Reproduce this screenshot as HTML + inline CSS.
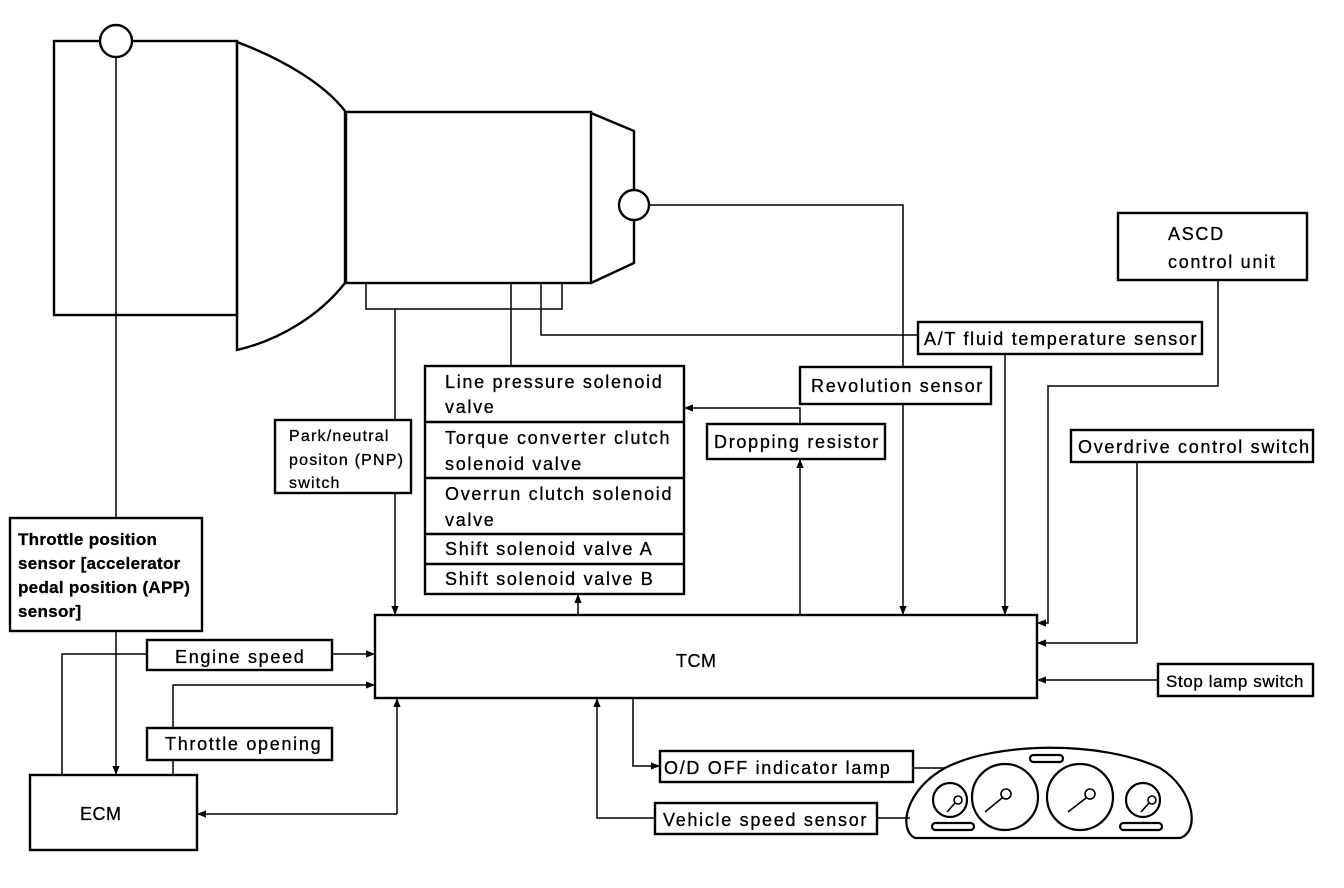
<!DOCTYPE html>
<html><head><meta charset="utf-8"><style>
html,body{margin:0;padding:0;background:#fff;}
svg{display:block;}
text{font-family:"Liberation Sans",Arial,sans-serif;font-size:18px;fill:#000;letter-spacing:1.7px;stroke:#000;stroke-width:0.3px;}
</style></head><body>
<svg width="1344" height="888" viewBox="0 0 1344 888" xmlns="http://www.w3.org/2000/svg">
<defs>
<marker id="a" viewBox="0 0 10 10" refX="10" refY="5" markerWidth="9" markerHeight="9" markerUnits="userSpaceOnUse" orient="auto"><path d="M0,1 L10,5 L0,9 Z" fill="#000" stroke="none"/></marker>
</defs>
<g fill="none" stroke="#000" stroke-width="2.4">
<rect x="54" y="41" width="183" height="274"/>
<circle cx="116" cy="41" r="16" fill="#fff"/>
<path d="M237,42 C285,60 325,85 345,111 L345,283 C320,315 280,340 237,350 Z"/>
<rect x="346" y="112" width="245" height="171"/>
<path d="M591,113 L634,131 L634,263 L591,283"/>
<circle cx="634" cy="205" r="15" fill="#fff"/>
<rect x="366" y="283" width="196" height="26" stroke-width="1.5"/>
<line x1="541" y1="283" x2="541" y2="309" stroke-width="1.5"/>
<rect x="1118" y="213" width="189" height="67"/>
<rect x="918" y="322" width="284" height="32"/>
<rect x="800" y="367" width="191" height="37"/>
<rect x="1071" y="430" width="242" height="32"/>
<rect x="1158" y="664" width="155" height="32"/>
<rect x="707" y="424" width="178" height="35"/>
<rect x="425" y="366" width="259" height="228"/>
<line x1="425" y1="422" x2="684" y2="422"/>
<line x1="425" y1="478" x2="684" y2="478"/>
<line x1="425" y1="534" x2="684" y2="534"/>
<line x1="425" y1="564" x2="684" y2="564"/>
<rect x="275" y="420" width="136" height="73"/>
<rect x="10" y="518" width="192" height="113"/>
<rect x="375" y="615" width="662" height="83"/>
<rect x="147" y="640" width="185" height="30"/>
<rect x="147" y="728" width="185" height="32"/>
<rect x="30" y="775" width="167" height="75"/>
<rect x="655" y="803" width="222" height="31"/>
<rect x="660" y="751" width="253" height="31"/>
</g>
<g fill="none" stroke="#000" stroke-width="1.5">
<line x1="116" y1="57" x2="116" y2="518"/>
<line x1="116" y1="631" x2="116" y2="775" marker-end="url(#a)"/>
<line x1="395" y1="309" x2="395" y2="420"/>
<line x1="395" y1="493" x2="395" y2="615" marker-end="url(#a)"/>
<line x1="511" y1="283" x2="511" y2="366"/>
<polyline points="541,309 541,335 918,335"/>
<polyline points="649,205 903,205 903,367"/>
<line x1="903" y1="404" x2="903" y2="615" marker-end="url(#a)"/>
<line x1="1005" y1="354" x2="1005" y2="615" marker-end="url(#a)"/>
<polyline points="1218,280 1218,386 1048,386 1048,623 1037,623" marker-end="url(#a)"/>
<polyline points="1137,462 1137,643 1037,643" marker-end="url(#a)"/>
<line x1="1158" y1="680" x2="1037" y2="680" marker-end="url(#a)"/>
<line x1="800" y1="615" x2="800" y2="459" marker-end="url(#a)"/>
<polyline points="800,424 800,408 684,408" marker-end="url(#a)"/>
<line x1="578" y1="615" x2="578" y2="594" marker-end="url(#a)"/>
<polyline points="62,775 62,654 147,654"/>
<line x1="332" y1="654" x2="375" y2="654" marker-end="url(#a)"/>
<polyline points="173,728 173,685 375,685" marker-end="url(#a)"/>
<line x1="173" y1="760" x2="173" y2="775"/>
<line x1="397" y1="814" x2="397" y2="698" marker-end="url(#a)"/>
<line x1="397" y1="814" x2="197" y2="814" marker-end="url(#a)"/>
<polyline points="655,818 597,818 597,698" marker-end="url(#a)"/>
<polyline points="633,698 633,766 660,766" marker-end="url(#a)"/>
<line x1="913" y1="768" x2="945" y2="768"/>
<line x1="877" y1="818" x2="910" y2="818"/>
</g>
<g fill="none" stroke="#000" stroke-width="2.2">
<path d="M915,838 C898,830 905,790 945,768 C995,742 1100,740 1160,768 C1195,790 1200,832 1180,838 Z"/>
<circle cx="950" cy="800" r="17"/><circle cx="1005" cy="797" r="33"/>
<circle cx="1080" cy="797" r="33"/><circle cx="1143" cy="800" r="17"/>
<rect x="1030" y="755" width="33" height="7" rx="3.5"/>
<rect x="932" y="823" width="42" height="7" rx="3.5"/>
<rect x="1120" y="823" width="42" height="7" rx="3.5"/>
</g>
<g fill="none" stroke="#000" stroke-width="1.6">
<circle cx="958" cy="800" r="4"/><line x1="955" y1="803" x2="947" y2="812"/>
<circle cx="1006" cy="794" r="5"/><line x1="1002" y1="798" x2="985" y2="812"/>
<circle cx="1090" cy="794" r="5"/><line x1="1086" y1="798" x2="1068" y2="812"/>
<circle cx="1152" cy="800" r="4"/><line x1="1149" y1="803" x2="1141" y2="812"/>
</g>
<text x="1168" y="240">ASCD</text>
<text x="1168" y="268">control unit</text>
<text x="924" y="345">A/T fluid temperature sensor</text>
<text x="811" y="392">Revolution sensor</text>
<text x="1078" y="453">Overdrive control switch</text>
<text x="1166" y="687" style="font-size:17px;letter-spacing:0.6px">Stop lamp switch</text>
<text x="714" y="448">Dropping resistor</text>
<text x="445" y="388">Line pressure solenoid</text>
<text x="445" y="413">valve</text>
<text x="445" y="444">Torque converter clutch</text>
<text x="445" y="470">solenoid valve</text>
<text x="445" y="500">Overrun clutch solenoid</text>
<text x="445" y="526">valve</text>
<text x="445" y="555">Shift solenoid valve A</text>
<text x="445" y="585">Shift solenoid valve B</text>
<text x="289" y="441" style="font-size:16px;letter-spacing:1.2px">Park/neutral</text>
<text x="289" y="465" style="font-size:16px;letter-spacing:1.2px">positon (PNP)</text>
<text x="289" y="488" style="font-size:16px;letter-spacing:1.2px">switch</text>
<text x="18" y="545" style="font-weight:bold;font-size:17px;letter-spacing:0.3px">Throttle position</text>
<text x="18" y="569" style="font-weight:bold;font-size:17px;letter-spacing:0.3px">sensor [accelerator</text>
<text x="18" y="593" style="font-weight:bold;font-size:17px;letter-spacing:0.3px">pedal position (APP)</text>
<text x="18" y="617" style="font-weight:bold;font-size:17px;letter-spacing:0.3px">sensor]</text>
<text x="175" y="663">Engine speed</text>
<text x="165" y="750">Throttle opening</text>
<text x="80" y="820" style="letter-spacing:0.5px">ECM</text>
<text x="676" y="667" style="letter-spacing:0.5px">TCM</text>
<text x="664" y="774">O/D OFF indicator lamp</text>
<text x="663" y="826">Vehicle speed sensor</text>
</svg>
</body></html>
